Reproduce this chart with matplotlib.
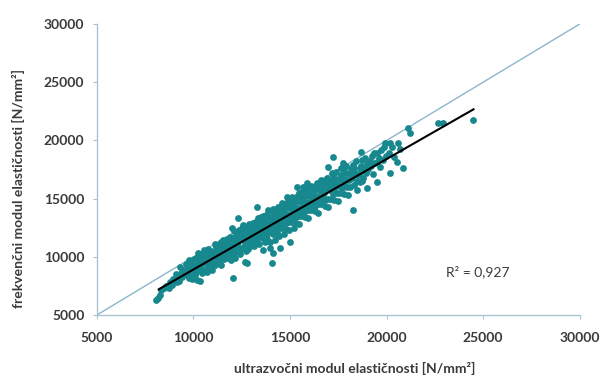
import matplotlib
matplotlib.use("Agg")
import matplotlib.pyplot as plt
import numpy as np

# ---- data ----
x_values = [
    8050, 8150, 8250, 8300, 8450,
    8600, 8750, 8800, 8950, 8900,
    9050, 9100, 9200, 9250, 9300, 9350, 9400, 9450, 9150,
    9550, 9600, 9650, 9700, 9750, 9800, 9850, 9900, 9950, 9600, 9750, 9900,
    10050, 10100, 10150, 10200, 10250, 10300, 10350, 10400, 10450, 10050, 10150, 10250, 10350, 10450, 10300, 10400,
    10550, 10600, 10650, 10700, 10750, 10800, 10850, 10900, 10950, 10600, 10700, 10800, 10900, 10950, 10550, 10750, 10850,
    11050, 11100, 11150, 11200, 11250, 11300, 11350, 11400, 11450, 11050, 11150, 11250, 11350, 11450, 11100, 11200, 11300, 11400, 11500,
    11550, 11600, 11650, 11700, 11750, 11800, 11850, 11900, 11950, 11600, 11700, 11800, 11900, 11950, 11650, 11750, 11850, 11550, 12000, 12040,
    12050, 12100, 12150, 12200, 12250, 12300, 12350, 12400, 12450, 12050, 12150, 12250, 12350, 12450, 12100, 12200, 12300, 12400, 12500, 12150, 12300,
    12550, 12600, 12650, 12700, 12750, 12800, 12850, 12900, 12950, 12560, 12600, 12700, 12800, 12900, 12950, 12650, 12750, 12850, 12660, 12760, 13000, 12600,
    13050, 13100, 13150, 13200, 13250, 13290, 13350, 13400, 13450, 13050, 13150, 13250, 13350, 13450, 13100, 13200, 13300, 13400, 13500, 13590, 13150, 13300, 13450,
    13550, 13600, 13650, 13700, 13750, 13800, 13850, 13900, 13950, 13550, 13650, 13750, 13850, 13950, 13600, 13700, 13800, 13900, 14000, 13950, 13700, 13850,
    14050, 14100, 14150, 14200, 14250, 14300, 14350, 14400, 14450, 14050, 14150, 14250, 14350, 14450, 14100, 14200, 14300, 14400, 14500, 14090, 14110, 14470, 14200, 14350,
    14550, 14600, 14650, 14700, 14750, 14800, 14850, 14900, 14950, 14550, 14650, 14750, 14850, 14950, 14600, 14700, 14800, 14900, 15000, 14990, 14700, 14850,
    15050, 15100, 15150, 15200, 15250, 15300, 15350, 15400, 15450, 15050, 15150, 15250, 15350, 15450, 15100, 15200, 15300, 15400, 15500, 15350, 15200, 15450,
    15550, 15600, 15650, 15700, 15750, 15800, 15850, 15900, 15950, 15550, 15650, 15750, 15850, 15950, 15600, 15700, 15800, 15900, 15870, 16000, 15650,
    16050, 16100, 16150, 16200, 16250, 16300, 16350, 16400, 16450, 16050, 16150, 16250, 16350, 16450, 16100, 16200, 16300, 16400, 16500,
    16550, 16600, 16650, 16700, 16750, 16800, 16850, 16900, 16950, 16550, 16650, 16750, 16850, 16960, 16600, 16700, 16800, 16950, 17000,
    17050, 17100, 17150, 17220, 17250, 17300, 17350, 17400, 17450, 17100, 17200, 17300, 17400, 17500, 17150, 17450,
    17550, 17600, 17650, 17730, 17750, 17800, 17850, 17900, 17950, 17600, 17700, 17800, 17900, 18000, 17650,
    18050, 18100, 18150, 18250, 18250, 18300, 18350, 18400, 18450, 18100, 18200, 18300, 18450, 18500,
    18550, 18600, 18660, 18700, 18750, 18800, 18850, 18900, 18980, 18600, 18750, 18950, 19000,
    19050, 19150, 19250, 19300, 19400, 19490, 19490, 19490, 19200, 19350,
    19600, 19700, 19800, 19850, 19900, 19950, 19650,
    20170, 20170, 20100, 20300, 20400,
    20530, 20580, 20840, 20700, 21100, 21200, 22650, 22900, 24460,
]
y_values = [
    6250, 6450, 6700, 7150, 7300,
    7500, 7350, 7800, 8100, 7600,
    8000, 8500, 8200, 7900, 9100, 8600, 8300, 8900, 7800,
    8700, 9400, 8400, 9000, 8200, 9600, 8800, 9300, 8500, 8900, 9700, 8100,
    9200, 8400, 9900, 8000, 9500, 8900, 10200, 9300, 8600, 9800, 8700, 10300, 7950, 9700, 9100, 10000,
    9600, 8900, 10300, 9400, 10700, 9000, 9900, 10500, 9300, 10000, 8700, 10300, 9700, 8900, 10600, 9600, 9100,
    10100, 9300, 10800, 9900, 11000, 9500, 10400, 11300, 10000, 9400, 10500, 9700, 10900, 9300, 11100, 10300, 10600, 9800, 10700,
    10400, 9800, 11200, 10600, 11500, 9900, 10900, 11700, 10300, 11000, 10000, 11300, 10700, 9700, 10300, 10800, 10100, 11400, 12470, 8180,
    11000, 10300, 11700, 10800, 12000, 13330, 11400, 10200, 11900, 11500, 10500, 11200, 12300, 10700, 12200, 11500, 10900, 11700, 12500, 9900, 11900,
    11400, 10800, 12200, 11300, 12600, 10700, 11900, 12800, 11200, 12730, 11800, 10500, 12300, 11600, 10900, 11000, 11700, 12400, 9550, 9470, 12100, 12500,
    11900, 11200, 12700, 11700, 13000, 14280, 12300, 11100, 12900, 12400, 11500, 12200, 13300, 11800, 12900, 12400, 11400, 12600, 13400, 10580, 10900, 12000, 12400,
    12300, 11600, 13200, 12200, 13600, 11500, 12800, 13900, 12100, 12900, 11900, 12600, 13400, 11300, 13500, 12800, 12000, 12500, 13200, 10760, 11300, 14000,
    12800, 12000, 13600, 12600, 14000, 11900, 13200, 14300, 12500, 13400, 12300, 13000, 13800, 11800, 14100, 13300, 12400, 12900, 13700, 9470, 10330, 10760, 11400, 12100,
    13300, 12500, 14100, 13100, 14500, 12400, 13700, 14800, 13000, 13900, 12800, 13500, 14300, 12300, 14600, 13800, 12900, 13400, 14200, 11270, 12000, 15100,
    13700, 13000, 14600, 13600, 15000, 12900, 14200, 15300, 13500, 14400, 13300, 14000, 14800, 12800, 15100, 14300, 13400, 13900, 14700, 16000, 12500, 15500,
    14200, 13500, 15100, 14100, 15500, 13400, 14700, 15800, 14000, 14900, 13800, 14500, 15300, 13300, 15600, 14800, 13900, 14400, 16340, 15200, 16000,
    14700, 14000, 15600, 14600, 16000, 13900, 15200, 16300, 14500, 15400, 14300, 15000, 15800, 13800, 16100, 15300, 14400, 14900, 15700,
    15200, 14500, 16100, 15100, 16500, 14400, 15700, 16800, 15000, 15900, 14800, 15500, 16300, 17720, 16600, 15800, 14900, 14300, 16200,
    15700, 15000, 16600, 18580, 17000, 14900, 16200, 17300, 15500, 16300, 15400, 15900, 16700, 14800, 17200, 16400,
    16100, 15500, 17000, 18060, 17500, 15400, 16700, 17800, 16000, 16700, 15900, 16300, 17200, 15300, 17600,
    16600, 16000, 17500, 17900, 14020, 16200, 17200, 18200, 16500, 17100, 16800, 17600, 15700, 17000,
    17100, 16400, 19000, 17800, 18300, 16800, 17500, 18500, 15910, 17600, 16500, 17200, 18000,
    17500, 18200, 18700, 17100, 18100, 18920, 18150, 16430, 17800, 18900,
    18500, 19200, 18300, 19430, 19780, 18700, 17700,
    19780, 17200, 18900, 19400, 18600,
    18150, 19780, 17630, 19300, 21060, 20640, 21500, 21500, 21750,
]
trend_slope = 0.949
trend_intercept = -580.0
trend_x = [8200, 24500]
identity_x = [5000, 30000]
x_ticks = [5000, 10000, 15000, 20000, 25000, 30000]
y_ticks = [5000, 10000, 15000, 20000, 25000, 30000]
r2_text = "R² = 0,927"
x_label = "ultrazvočni modul elastičnosti [N/mm²]"
y_label = "frekvenčni modul elastičnosti [N/mm²]"

plt.rcParams['font.family'] = ['Lato', 'DejaVu Sans']

fig = plt.figure(figsize=(6.02, 3.78), dpi=100)
ax = fig.add_axes([0.161, 0.1667, 0.802, 0.7698])

teal = "#17898e"
axis_col = "#a9c4d3"
text_col = "#3a3a3a"

ax.plot(identity_x, identity_x, color="#8ab6cb", lw=1.0, zorder=1)
ax.scatter(x_values, y_values, s=24, color=teal, marker='o', linewidths=0, zorder=2)
tx = np.array(trend_x, dtype=float)
ax.plot(tx, trend_slope * tx + trend_intercept, color="black", lw=1.5, zorder=3)

ax.set_xlim(5000, 30000)
ax.set_ylim(5000, 30000)
ax.set_xticks(x_ticks)
ax.set_yticks(y_ticks)
ax.set_xticklabels([str(v) for v in x_ticks])
ax.set_yticklabels([str(v) for v in y_ticks])

for s in ['top', 'right']:
    ax.spines[s].set_visible(False)
for s in ['left', 'bottom']:
    ax.spines[s].set_color(axis_col)
    ax.spines[s].set_linewidth(1.0)

ax.tick_params(axis='x', length=3, color=axis_col, pad=9, labelsize=10, labelcolor=text_col)
ax.tick_params(axis='y', length=3, color=axis_col, pad=6, labelsize=10, labelcolor=text_col)
for lab in ax.get_xticklabels() + ax.get_yticklabels():
    lab.set_fontweight('bold')

ax.set_xlabel(x_label, fontsize=10, fontweight='bold', color=text_col)
ax.set_ylabel(y_label, fontsize=10, fontweight='bold', color=text_col)
ax.xaxis.set_label_coords(0.534, -0.1615)
ax.yaxis.set_label_coords(-0.149, 0.436)

ax.text(24720, 8690, r2_text, fontsize=10, color=text_col, ha='center', va='center')

fig.savefig("out.png", dpi=100)
